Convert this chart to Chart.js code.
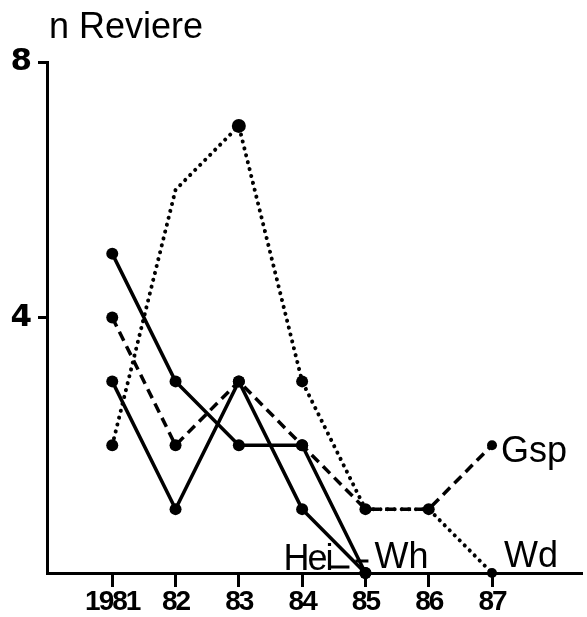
<!DOCTYPE html>
<html>
<head>
<meta charset="utf-8">
<style>
html,body{margin:0;padding:0;background:#fff;}
#wrap{width:587px;height:617px;position:relative;}
</style>
<script src="https://cdn.jsdelivr.net/npm/chart.js@4"></script>
</head>
<body>
<div id="wrap"><canvas id="c"></canvas></div>
<script>
// ---- data ----
const years = ['1981', '82', '83', '84', '85', '86', '87'];
const yTickValues = [4, 8];
const whValues  = [5, 3, 2, 2, 0];          // solid
const heiValues = [3, 1, 3, 1, 0];          // solid
const gspValues = [4, 2, 3, 2, 1, 1, 2];    // dashed
const wdValues  = [2, 6, 7, 3, 1, 1, 0];    // dotted
const yTitle = 'n Reviere';

const toPts = arr => arr.map((v, i) => ({x: i, y: v}));

const spacingPlugin = {
  id: 'spacing',
  beforeDraw(chart) { chart.ctx.letterSpacing = '-2px'; },
  beforeDatasetsDraw(chart) { chart.ctx.letterSpacing = '0px'; }
};

const labelPlugin = {
  id: 'labels',
  afterDatasetsDraw(chart) {
    const ctx = chart.ctx;
    const xs = chart.scales.x, ys = chart.scales.y;
    ctx.save();
    ctx.letterSpacing = '0px';
    ctx.fillStyle = '#000';
    ctx.strokeStyle = '#000';
    ctx.textBaseline = 'alphabetic';
    ctx.textAlign = 'left';
    ctx.font = '36px "Liberation Sans", Arial, sans-serif';
    ctx.fillText(yTitle, 49, 38);
    // Gsp
    ctx.fillText('Gsp', xs.getPixelForValue(6) + 9, ys.getPixelForValue(2) + 17);
    // Wd
    ctx.fillText('Wd', xs.getPixelForValue(6) + 12, ys.getPixelForValue(0) - 6);
    // Wh
    const x85 = xs.getPixelForValue(4), y0 = ys.getPixelForValue(0);
    ctx.fillText('Wh', x85 + 9, y0 - 5);
    ctx.letterSpacing = '-2px';
    ctx.fillText('Hei', x85 - 82, y0 - 3);
    ctx.letterSpacing = '0px';
    ctx.lineWidth = 3;
    ctx.beginPath();
    ctx.moveTo(x85 - 35, y0 - 6); ctx.lineTo(x85 - 16, y0 - 6);
    ctx.moveTo(x85 - 10, y0 - 12); ctx.lineTo(x85 + 3, y0 - 12);
    ctx.stroke();
    ctx.restore();
  }
};

const common = {
  borderColor: '#000',
  backgroundColor: '#000',
  pointBackgroundColor: '#000',
  pointBorderColor: '#000',
  pointBorderWidth: 0,
  tension: 0,
  fill: false,
  clip: false
};

new Chart(document.getElementById('c'), {
  type: 'line',
  data: {
    datasets: [
      Object.assign({}, common, {label: 'Wh', data: toPts(whValues), borderWidth: 3.5, pointRadius: 6}),
      Object.assign({}, common, {label: 'Hei', data: toPts(heiValues), borderWidth: 3.5, pointRadius: 6}),
      Object.assign({}, common, {label: 'Gsp', data: toPts(gspValues), borderWidth: 3.5, borderDash: [10, 6], pointRadius: [6,6,6,6,6,6,5]}),
      Object.assign({}, common, {label: 'Wd', data: toPts(wdValues), borderWidth: 4, borderDash: [0.1, 7], borderCapStyle: 'round', pointRadius: [6,0,7,6,5,5,5]})
    ]
  },
  options: {
    responsive: true,
    maintainAspectRatio: false,
    animation: false,
    events: [],
    layout: {padding: {top: 62, right: 0, left: 0, bottom: 0}},
    plugins: {legend: {display: false}, title: {display: false}, tooltip: {enabled: false}},
    scales: {
      x: {
        type: 'linear',
        min: -1.031,
        max: 7.406,
        afterBuildTicks: s => { s.ticks = years.map((_, i) => ({value: i})); },
        afterFit: s => { s.height = 44; },
        ticks: {
          callback: (v) => years[v],
          color: '#000',
          padding: -2,
          maxRotation: 0,
          autoSkip: false,
          font: {family: '"Liberation Sans", Arial, sans-serif', size: 28, weight: 'bold'}
        },
        grid: {display: true, drawOnChartArea: false, drawTicks: true, tickLength: 14, color: '#000', lineWidth: 3},
        border: {display: true, color: '#000', width: 3}
      },
      y: {
        type: 'linear',
        min: 0,
        max: 8,
        afterBuildTicks: s => { s.ticks = yTickValues.map(v => ({value: v})); },
        afterFit: s => { s.width = 47; },
        ticks: {
          color: '#000',
          padding: 8,
          font: {family: '"DejaVu Sans", sans-serif', size: 31, weight: 'bold'}
        },
        grid: {display: true, drawOnChartArea: false, drawTicks: true, tickLength: 9, color: '#000', lineWidth: 3},
        border: {display: true, color: '#000', width: 3}
      }
    }
  },
  plugins: [spacingPlugin, labelPlugin]
});
</script>
</body>
</html>
